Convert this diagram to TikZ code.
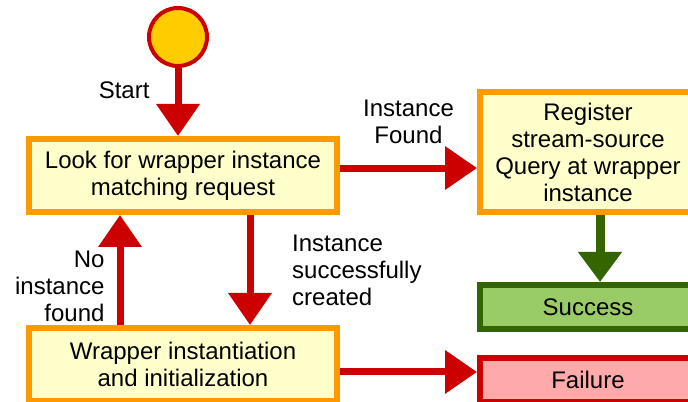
\documentclass[tikz,border=0pt]{standalone}
\usepackage{fontspec}
\setmainfont{Liberation Sans}
\usetikzlibrary{arrows.meta,positioning}
\definecolor{colCadre}{RGB}{255,153,0}
\definecolor{colFond}{RGB}{255,255,204}
\definecolor{colRouge}{RGB}{204,0,0}
\definecolor{colOr}{RGB}{255,204,0}
\definecolor{colVert}{RGB}{51,102,0}
\definecolor{colVertClair}{RGB}{153,204,102}
\definecolor{colRose}{RGB}{255,170,170}

\begin{document}
\begin{tikzpicture}[x=0.75pt, y=-0.75pt, font=\fontsize{18}{20.25}\selectfont,
    blk/.style={rectangle, draw=colCadre, fill=colFond, line width=4.5pt,
      align=center, inner sep=0pt, minimum width=231pt, minimum height=54.75pt},
    etat/.style={rectangle, line width=4.5pt, align=center, inner sep=0pt,
      minimum width=162pt, minimum height=33pt},
    lbl/.style={inner sep=0pt, text=black},
    fl/.style={-{Triangle[length=24pt, width=31.5pt]}, line width=5.25pt, colRouge},
    flv/.style={-{Triangle[length=22.5pt, width=31.5pt]}, line width=6.75pt, colVert}]
    \useasboundingbox (0,0) rectangle (688,402);
    \clip (0,0) rectangle (688,402);
    \node[circle, draw=colRouge, fill=colOr, line width=3pt, minimum size=43.5pt,
      inner sep=0pt] (init) at (178,37) {};
    \node[blk] (look) at (183,175.5) {Look for wrapper instance\\ matching request};
    \node[blk, below=82.5pt of look] (inst) {Wrapper instantiation\\ and initialization};
    \node[blk, minimum width=162pt, minimum height=90pt] (reg) at (588,152)
      {Register\\ stream-source\\ Query at wrapper\\ instance};
    \node[etat, draw=colVert, fill=colVertClair, below=50.25pt of reg] (succ) {Success};
    \node[etat, draw=colRouge, fill=colRose, below=17.25pt of succ] (fail) {Failure};
    \draw[fl] (init) -- (init |- look.north)
      node[lbl, pos=0.33, left=18.75pt] {Start};
    \coordinate (trouve) at ([yshift=5.6pt]look.east);
    \draw[fl] (trouve) -- (trouve -| reg.west)
      node[lbl, midway, above=15.75pt, align=center] {Instance\\ Found};
    \coordinate (bas) at ([xshift=50.25pt]look.south);
    \draw[fl] (bas) -- (bas |- inst.north)
      node[lbl, midway, right=29pt, align=left] {Instance\\ successfully\\ created};
    \coordinate (haut) at ([xshift=-47.25pt]inst.north);
    \draw[fl] (haut) -- (haut |- look.south)
      node[lbl, pos=0.35, left=9pt, align=right] {No\\ instance\\ found};
    \coordinate (echec) at ([yshift=-5.6pt]inst.east);
    \draw[fl] (echec) -- (echec -| fail.west);
    \coordinate (ok) at ([xshift=9pt]reg.south);
    \draw[flv] (ok) -- (ok |- succ.north);
  \end{tikzpicture}
\end{document}
